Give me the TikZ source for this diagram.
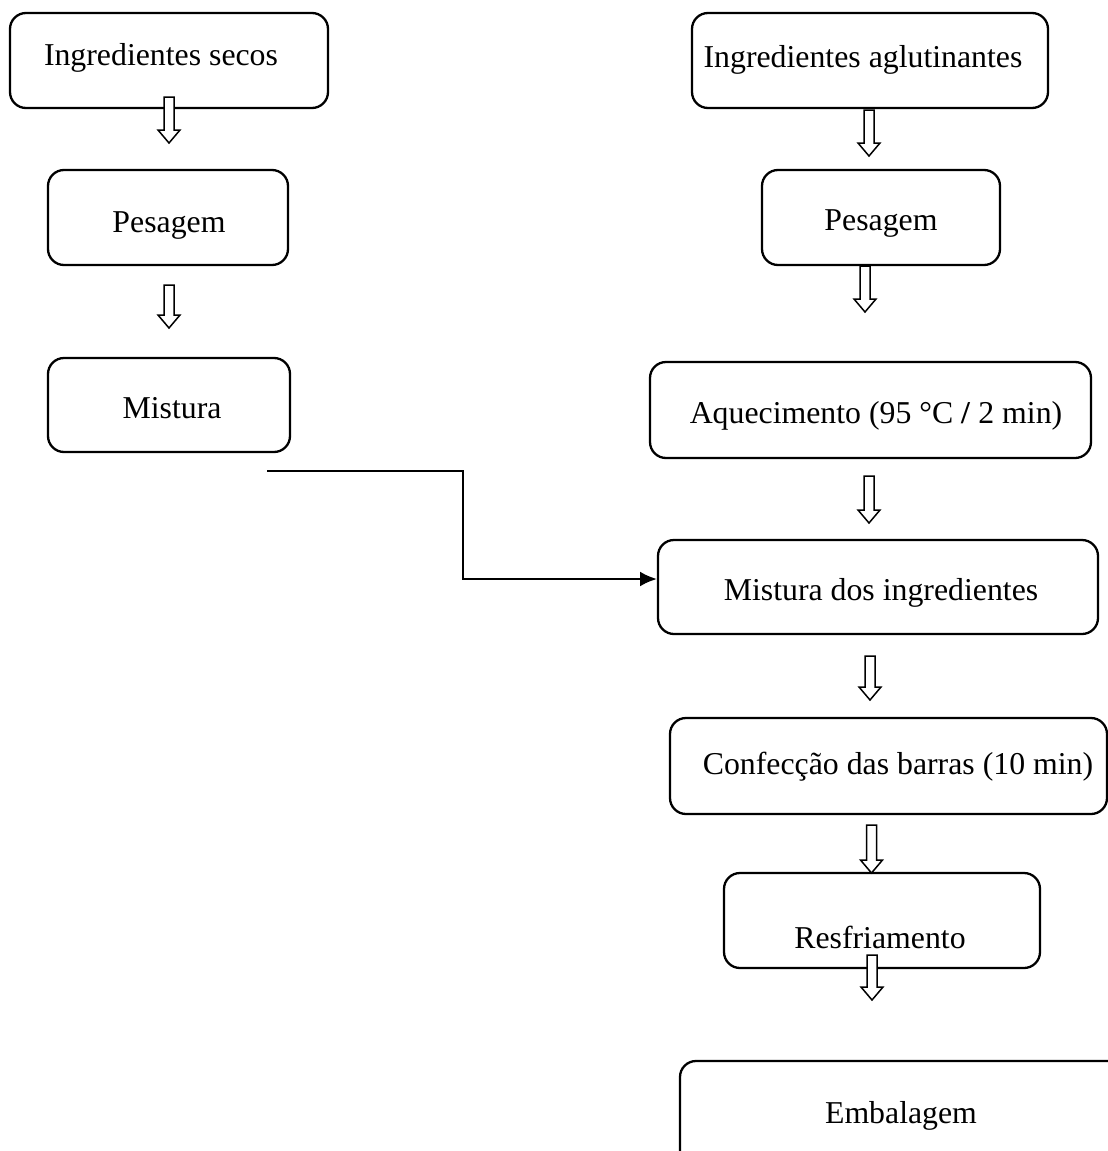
\documentclass[tikz,border=0pt]{standalone}
\usepackage{fontspec}
\setmainfont{Liberation Serif}
\usetikzlibrary{arrows.meta}
\tikzset{
  box/.style={draw, line width=2.3pt, rounded corners=16pt, inner sep=0pt},
  lbl/.style={anchor=base, inner sep=0pt, font=\fontsize{31.8}{38}\selectfont},
  harrowstyle/.style={draw, fill=white, line width=1.5pt, line join=miter},
  conn/.style={line width=2.5pt, -{Latex[length=17pt,width=15pt]}}
}
\newcommand\harrow[3]{\draw[harrowstyle] (#1-5,#2) -- (#1-5,#3-13) -- (#1-11,#3-13) -- (#1,#3) -- (#1+11,#3-13) -- (#1+5,#3-13) -- (#1+5,#2) -- cycle;}
\begin{document}
\begin{tikzpicture}[x=1pt,y=-1pt]
\useasboundingbox (0,0) rectangle (1108,1151);
\clip (0,0) rectangle (1108,1151);
% left column
\node[box, minimum width=318, minimum height=95] (l1) at (169,60.5) {};
\node[box, minimum width=240, minimum height=95] (l2) at (168,217.5) {};
\node[box, minimum width=242, minimum height=94] (l3) at (169,405) {};
% right column
\node[box, minimum width=356, minimum height=95] (r1) at (870,60.5) {};
\node[box, minimum width=238, minimum height=95] (r2) at (881,217.5) {};
\node[box, minimum width=441, minimum height=96] (r3) at (870.5,410) {};
\node[box, minimum width=440, minimum height=94] (r4) at (878,587) {};
\node[box, minimum width=437, minimum height=96] (r5) at (888.5,766) {};
\node[box, minimum width=316, minimum height=95] (r6) at (882,920.5) {};
\node[box, minimum width=460, minimum height=114] (r7) at (910,1118) {};
% labels
\node[lbl] (t1) at (161,65) {Ingredientes secos};
\node[lbl] (t2) at (169,232) {Pesagem};
\node[lbl] (t3) at (172,418) {Mistura};
\node[lbl] (u1) at (863,67) {Ingredientes aglutinantes};
\node[lbl] (u2) at (881,230) {Pesagem};
\node[lbl] (u3) at (876,423) {Aquecimento (95 °C \textbf{/} 2 min)};
\node[lbl] (u4) at (881,600) {Mistura dos ingredientes};
\node[lbl] (u5) at (898,774) {Confecção das barras (10 min)};
\node[lbl] (u6) at (880,948) {Resfriamento};
\node[lbl] (u7) at (901,1123) {Embalagem};
% hollow arrows
\harrow{169}{97}{143}
\harrow{169}{285}{328}
\harrow{869}{110}{156}
\harrow{865}{266}{312}
\harrow{869}{476}{523}
\harrow{870}{656}{700}
\harrow{871.5}{825}{873}
\harrow{872}{955}{1000}
% connector
\coordinate (c0) at (267,471);
\coordinate (c1) at (657,579);
\draw[conn] (c0) -- (463,471) -- (463,579) -- (c1);
\end{tikzpicture}
\end{document}
